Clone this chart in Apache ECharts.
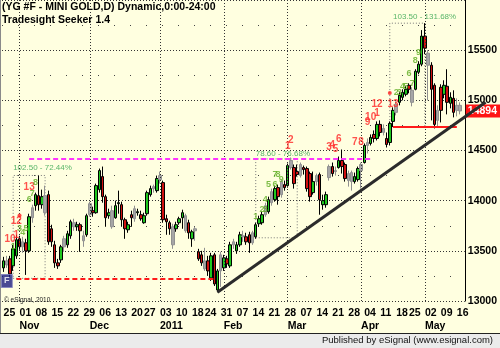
<!DOCTYPE html>
<html>
<head>
<meta charset="utf-8">
<script src="https://cdn.jsdelivr.net/npm/echarts@6/dist/echarts.min.js"></script>
<style>
  html, body { margin: 0; padding: 0; background: #ffffe0; }
  #chart { width: 500px; height: 348px; }
</style>
</head>
<body>
<div id="chart"></div>
<script>
// daily bars, [open, close, low, high]
const ohlc = [
  [13330,13400,13290,13440],[13400,13360,13330,13450],[13420,13270,13240,13450],[13350,13520,13300,13560],[13450,13610,13420,13660],
  [13620,13540,13500,13650],[13540,13590,13480,13640],[13580,13500,13260,13620],[13500,13840,13480,13870],[13830,13930,13780,13960],
  [13950,14060,13900,14080],[14050,13960,13900,14250],[13960,14040,13920,14110],[14050,13880,13850,14150],[14060,13590,13560,14100],
  [13720,13590,13540,13760],[13560,13380,13330,13600],[13380,13350,13320,13420],[13410,13540,13380,13560],[13540,13620,13490,13650],
  [13560,13670,13530,13700],[13650,13790,13620,13810],[13780,13740,13700,13820],[13740,13760,13700,13790],[13760,13700,13490,13780],
  [13650,13600,13540,13700],[13660,13850,13640,13870],[13860,13970,13840,13990],[13900,13880,13840,13940],[13880,14150,13870,14170],
  [14110,14300,14080,14320],[14240,14040,13980,14340],[14040,13830,13740,14060],[13850,13880,13820,13920],[13900,13740,13720,13950],
  [13830,13950,13820,14000],[13970,13980,13870,14100],[13960,13810,13740,13990],[13810,13720,13620,13830],[13710,13760,13680,13790],
  [13860,13830,13740,13900],[13820,13920,13790,13950],[13880,13890,13850,13920],[13860,13820,13800,13900],[13780,13850,13770,13880],
  [13870,14080,13850,14100],[14060,14120,14040,14150],[14120,14140,14080,14160],[14100,14220,14080,14250],[14210,14250,14170,14290],
  [14180,13810,13780,14200],[13820,13790,13660,13860],[13780,13720,13660,13800],[13740,13560,13520,13770],[13720,13760,13690,13790],
  [13780,13820,13760,13840],[13830,13880,13720,13910],[13850,13700,13680,13870],[13780,13680,13620,13810],[13620,13690,13540,13710],
  [13700,13720,13600,13740],[13490,13420,13400,13520],[13460,13380,13350,13500],[13400,13320,13300,13530],[13400,13300,13250,13450],
  [13230,13450,13200,13480],[13460,13170,13150,13480],[13110,13300,13087,13320],[13300,13460,13140,13490],[13330,13430,13300,13460],
  [13420,13370,13330,13450],[13350,13560,13330,13590],[13560,13590,13520,13620],[13500,13560,13470,13590],[13560,13660,13540,13690],
  [13650,13640,13590,13700],[13640,13590,13560,13680],[13660,13580,13480,13690],[13580,13680,13560,13700],[13640,13760,13620,13780],
  [13770,13820,13740,13850],[13780,13860,13760,13890],[13860,13950,13840,13980],[13890,14010,13870,14040],[13980,14090,13950,14120],
  [14010,14120,13990,14150],[14130,14040,13960,14160],[14060,14190,14030,14210],[14160,14130,14100,14200],[14150,14350,14130,14370],
  [14330,14400,14310,14430],[14330,14170,14120,14360],[14290,14260,14240,14360],[14250,14360,14230,14380],[14330,14310,14260,14350],
  [14320,14120,14090,14340],[14270,14040,13990,14290],[14080,14190,14060,14290],[14190,14250,14150,14270],[14260,14010,13860,14280],
  [13960,14000,13910,14060],[13960,14060,13930,14090],[14230,14340,14200,14360],[14340,14270,14240,14380],[14290,14300,14250,14340],
  [14330,14400,14320,14440],[14400,14340,14270,14510],[14360,14220,14190,14380],[14200,14270,14140,14300],[14280,14190,14100,14300],
  [14190,14240,14170,14280],[14210,14320,14190,14340],[14300,14360,14120,14380],[14380,14550,14370,14570],[14550,14580,14470,14620],
  [14570,14630,14550,14660],[14660,14620,14580,14700],[14620,14760,14600,14790],[14760,14680,14640,14800],[14680,14720,14650,14760],
  [14620,14560,14530,14680],[14580,14770,14550,14790],[14790,14900,14734,14930],[14880,14960,14850,14990],[14980,15050,14950,15080],
  [15030,15080,15000,15110],[15060,15110,15040,15140],[15150,15110,15070,15170],[15100,14980,14940,15130],[15110,15290,15100,15310],
  [15280,15360,15260,15390],[15360,15640,15340,15700],[15640,15520,15460,15769],[15470,15350,15000,15500],[15350,15110,14800,15380],
  [15150,14760,14720,15170],[14800,14900,14740,14950],[15130,14900,14780,15160],[15060,15150,15020,15200],[15140,14980,14860,15310],
  [14970,15030,14920,15080],[15020,14880,14830,15100],[14900,14950,14840,15020],[14950,14894,14860,14980]
]
// bars drawn in grey
const grayBars = [1,6,9,13,19,22,25,27,34,41,47,49,53,57,60,63,68,72,75,78,82,84,87,90,93,98,102,104,108,109,112,114,119,123,128,133,136,142,143]

// week labels and number of bars in each week
const weekLabels = ['25','01','08','15','22','29','06','13','20','27','03','10','18','24','31','07','14','21','28','07','14','21','28','04','11','18','25','02','09','16']
const weekBars = [5,5,5,5,5,5,5,5,4,5,5,5,4,5,5,5,5,5,5,5,5,5,5,5,5,4,5,5,5,2]
const monthNames = ['Nov','Dec','2011','Feb','Mar','Apr','May']
const monthStartBar = [5,27,49,69,89,112,132]

const yTicks = [13000, 13500, 14000, 14500, 15000, 15500]
const lastPrice = 14894

// seeker counts [bar, price, text]
const redCounts = [
  [2,13620,'10'],[4,13660,'1'],[4,13795,'12'],[8,14134,'13'],
  [89,14541,'1'],[90,14598,'2'],[102,14531,'3'],[103,14550,'4'],[104,14512,'5'],[105,14608,'6'],
  [110,14579,'7'],[112,14579,'8'],[114,14783,'9'],[115,14831,'10'],[117,14870,'1'],[117,14957,'12'],[122,14957,'13']
]
const greenCounts = [
  [3,13543,'1'],[5,13727,'3'],[6,13678,'4'],[7,13727,'5'],[8,14008,'6'],[9,14076,'7'],[10,14182,'8'],
  [79,13843,'1'],[81,13911,'2'],[82,13911,'3'],[82,14008,'4'],[83,14163,'5'],[85,14163,'6'],[85,14260,'7'],[86,14260,'8'],[87,14211,'9'],
  [123,15074,'2'],[124,15074,'3'],[125,15141,'4'],[126,15141,'5'],[127,15267,'6'],[128,15170,'7'],[129,15393,'8'],[130,15480,'9']
]
const moveLabels = [[3,14330,'102.50 - 72.44%'],[79,14463,'78.60 - 76.68%'],[122,15830,'103.50 - 131.68%']]
// boxes [barFrom, low, barTo, high]
const moveBoxes = [[3,13226,13,14251],[79,13630,92,14416],[121,14734,132,15769]]

const magentaLine = [[8,14416],[115,14416]]
const redDashLine = [[4,13226],[66,13226]]
const redSolidLine = [[122,14734],[142,14734]]
const trendLine = [[67,13087],[151,14980]]
const redDots = [[5,13853],[121,15074]]

const FONT = 'Liberation Sans, Arial, sans-serif'
const GRAY = '#a6a6a6'

const categories = []
for (let i = 0; i <= ohlc.length; i++) categories.push(String(i))

const weekStart = {}
let k = 0
weekBars.forEach((n, w) => { weekStart[k] = weekLabels[w]; k += n })
const monthAt = {}
monthStartBar.forEach((b, i) => { monthAt[b] = monthNames[i] })

const candleData = ohlc.map((d, i) => grayBars.includes(i)
  ? { value: d, itemStyle: { color: GRAY, color0: GRAY, borderColor: '#909090', borderColor0: '#909090' } }
  : d)

function textPoints(list) {
  return list.map(m => ({ value: [m[0], m[1]], label: { formatter: m[2] } }))
}

const chart = echarts.init(document.getElementById('chart'))

const option = {
  animation: false,
  backgroundColor: '#ffffe0',
  title: {
    left: 2, top: 2, padding: 0, itemGap: 2,
    text: '(YG #F - MINI GOLD,D) Dynamic,0:00-24:00',
    subtext: 'Tradesight Seeker 1.4',
    textStyle: { fontFamily: FONT, fontSize: 10.5, fontWeight: 'bold', color: '#000' },
    subtextStyle: { fontFamily: FONT, fontSize: 10.5, fontWeight: 'bold', color: '#000' }
  },
  grid: { left: 2, right: 33, top: -8, bottom: 47 },
  xAxis: [
    {
      type: 'category', data: categories, boundaryGap: true,
      axisLine: { show: false }, axisTick: { show: false }, splitLine: { show: false },
      axisLabel: {
        interval: (i) => weekStart[i] !== undefined,
        formatter: (v, i) => weekStart[i],
        align: 'left', margin: 7, fontFamily: FONT, fontSize: 10.5, fontWeight: 'bold', color: '#000'
      }
    },
    {
      type: 'category', data: categories, boundaryGap: true, position: 'bottom', offset: 13,
      axisLine: { show: false }, axisTick: { show: false }, splitLine: { show: false },
      axisLabel: {
        interval: (i) => monthAt[i] !== undefined,
        formatter: (v, i) => monthAt[i],
        align: 'left', margin: 7, fontFamily: FONT, fontSize: 10.5, fontWeight: 'bold', color: '#000'
      }
    }
  ],
  yAxis: {
    type: 'value', position: 'right', min: 13000, max: 16000, interval: 500,
    axisLine: { show: true, lineStyle: { color: '#000', width: 1 } },
    axisTick: { show: false },
    axisLabel: {
      margin: 3, showMaxLabel: false, fontFamily: FONT, fontSize: 10.5, fontWeight: 'bold', color: '#000',
      formatter: (v) => yTicks.includes(v) ? String(v) : ''
    },
    splitLine: { show: true, lineStyle: { color: '#333', type: [1, 2], width: 1 } },
    minorTick: { show: false, splitNumber: 2 },
    minorSplitLine: { show: true, lineStyle: { color: '#444', type: [1, 15], width: 1 } }
  },
  series: [
    {
      // vertical month lines and move boxes, behind the bars
      type: 'line', data: [], z: 1, silent: true,
      markLine: {
        silent: true, symbol: 'none', label: { show: false },
        lineStyle: { color: '#333', type: [1, 2], width: 1 },
        data: monthStartBar.map(b => ({ xAxis: b }))
      },
      markArea: {
        silent: true,
        itemStyle: { color: 'rgba(0,0,0,0)', borderColor: '#777', borderWidth: 1, borderType: [1, 2] },
        data: moveBoxes.map(b => [{ coord: [b[0], b[1]] }, { coord: [b[2], b[3]] }])
      }
    },
    {
      type: 'candlestick', data: candleData, barWidth: 3, z: 2,
      itemStyle: { color: '#1ec81e', color0: '#d01010', borderColor: '#000', borderColor0: '#000', borderWidth: 1 },
      markLine: {
        silent: true, symbol: 'none',
        lineStyle: { width: 0, color: 'transparent' },
        label: {
          show: true, position: 'end', distance: 1, formatter: String(lastPrice),
          backgroundColor: '#ff1414', color: '#fff', fontFamily: FONT, fontSize: 10.5, fontWeight: 'bold',
          padding: [1, 3, 1, 2]
        },
        data: [{ yAxis: lastPrice }]
      }
    },
    {
      type: 'line', data: [], z: 3, silent: true,
      markLine: {
        silent: true, symbol: 'none', label: { show: false },
        data: [
          [{ coord: magentaLine[0], lineStyle: { color: '#ff33ff', width: 2, type: [5, 3] } }, { coord: magentaLine[1] }],
          [{ coord: redDashLine[0], lineStyle: { color: '#ff1a1a', width: 2, type: [5, 3] } }, { coord: redDashLine[1] }],
          [{ coord: redSolidLine[0], lineStyle: { color: '#ff1a1a', width: 2, type: 'solid' } }, { coord: redSolidLine[1] }]
        ]
      }
    },
    {
      type: 'scatter', z: 6, silent: true, symbolSize: 1, itemStyle: { color: 'transparent' },
      data: textPoints(redCounts),
      label: { show: true, position: 'inside', color: '#ff2626', fontFamily: FONT, fontSize: 10, fontWeight: 'bold' }
    },
    {
      type: 'scatter', z: 6, silent: true, symbolSize: 1, itemStyle: { color: 'transparent' },
      data: textPoints(greenCounts),
      label: { show: true, position: 'inside', color: '#5fae22', fontFamily: FONT, fontSize: 9, fontWeight: 'bold' }
    },
    {
      type: 'scatter', z: 6, silent: true, symbolSize: 1, itemStyle: { color: 'transparent' },
      data: textPoints(moveLabels),
      label: { show: true, position: 'inside', align: 'left', color: '#2ea34a', fontFamily: FONT, fontSize: 8 }
    },
    {
      type: 'scatter', z: 6, silent: true, symbol: 'circle', symbolSize: 4,
      itemStyle: { color: '#ff2020' }, data: redDots
    },
    {
      type: 'scatter', z: 7, silent: true, symbol: 'rect', symbolSize: [11, 13],
      itemStyle: { color: '#1c1c80', borderColor: '#8080c0', borderWidth: 1 },
      data: [[1, 13200]],
      label: { show: true, position: 'inside', formatter: 'F', color: '#fff', fontFamily: FONT, fontSize: 9, fontWeight: 'bold' }
    }
  ]
}

chart.setOption(option)

const t0 = chart.convertToPixel({ xAxisIndex: 0, yAxisIndex: 0 }, trendLine[0])
const t1 = chart.convertToPixel({ xAxisIndex: 0, yAxisIndex: 0 }, trendLine[1])

chart.setOption({
  graphic: [
    { type: 'line', silent: true, z: 100, shape: { x1: t0[0], y1: t0[1], x2: t1[0], y2: t1[1] },
      style: { stroke: '#2b2b2b', lineWidth: 3 } },
    { type: 'line', silent: true, shape: { x1: 0.5, y1: 0, x2: 0.5, y2: 333 }, style: { stroke: '#8a8a8a', lineWidth: 1 } },
    { type: 'rect', silent: true, shape: { x: 0, y: 334, width: 500, height: 14 }, style: { fill: '#ebebeb' } },
    { type: 'line', silent: true, shape: { x1: 0, y1: 333.5, x2: 500, y2: 333.5 }, style: { stroke: '#222', lineWidth: 1 } },
    { type: 'text', silent: true, right: 7, top: 335,
      style: { text: 'Published by eSignal (www.esignal.com)', font: '9.5px ' + FONT, fill: '#111' } },
    { type: 'text', silent: true, left: 4, top: 297,
      style: { text: '\u00a9 eSignal, 2010', font: '6.5px ' + FONT, fill: '#222' } }
  ]
})
</script>
</body>
</html>
